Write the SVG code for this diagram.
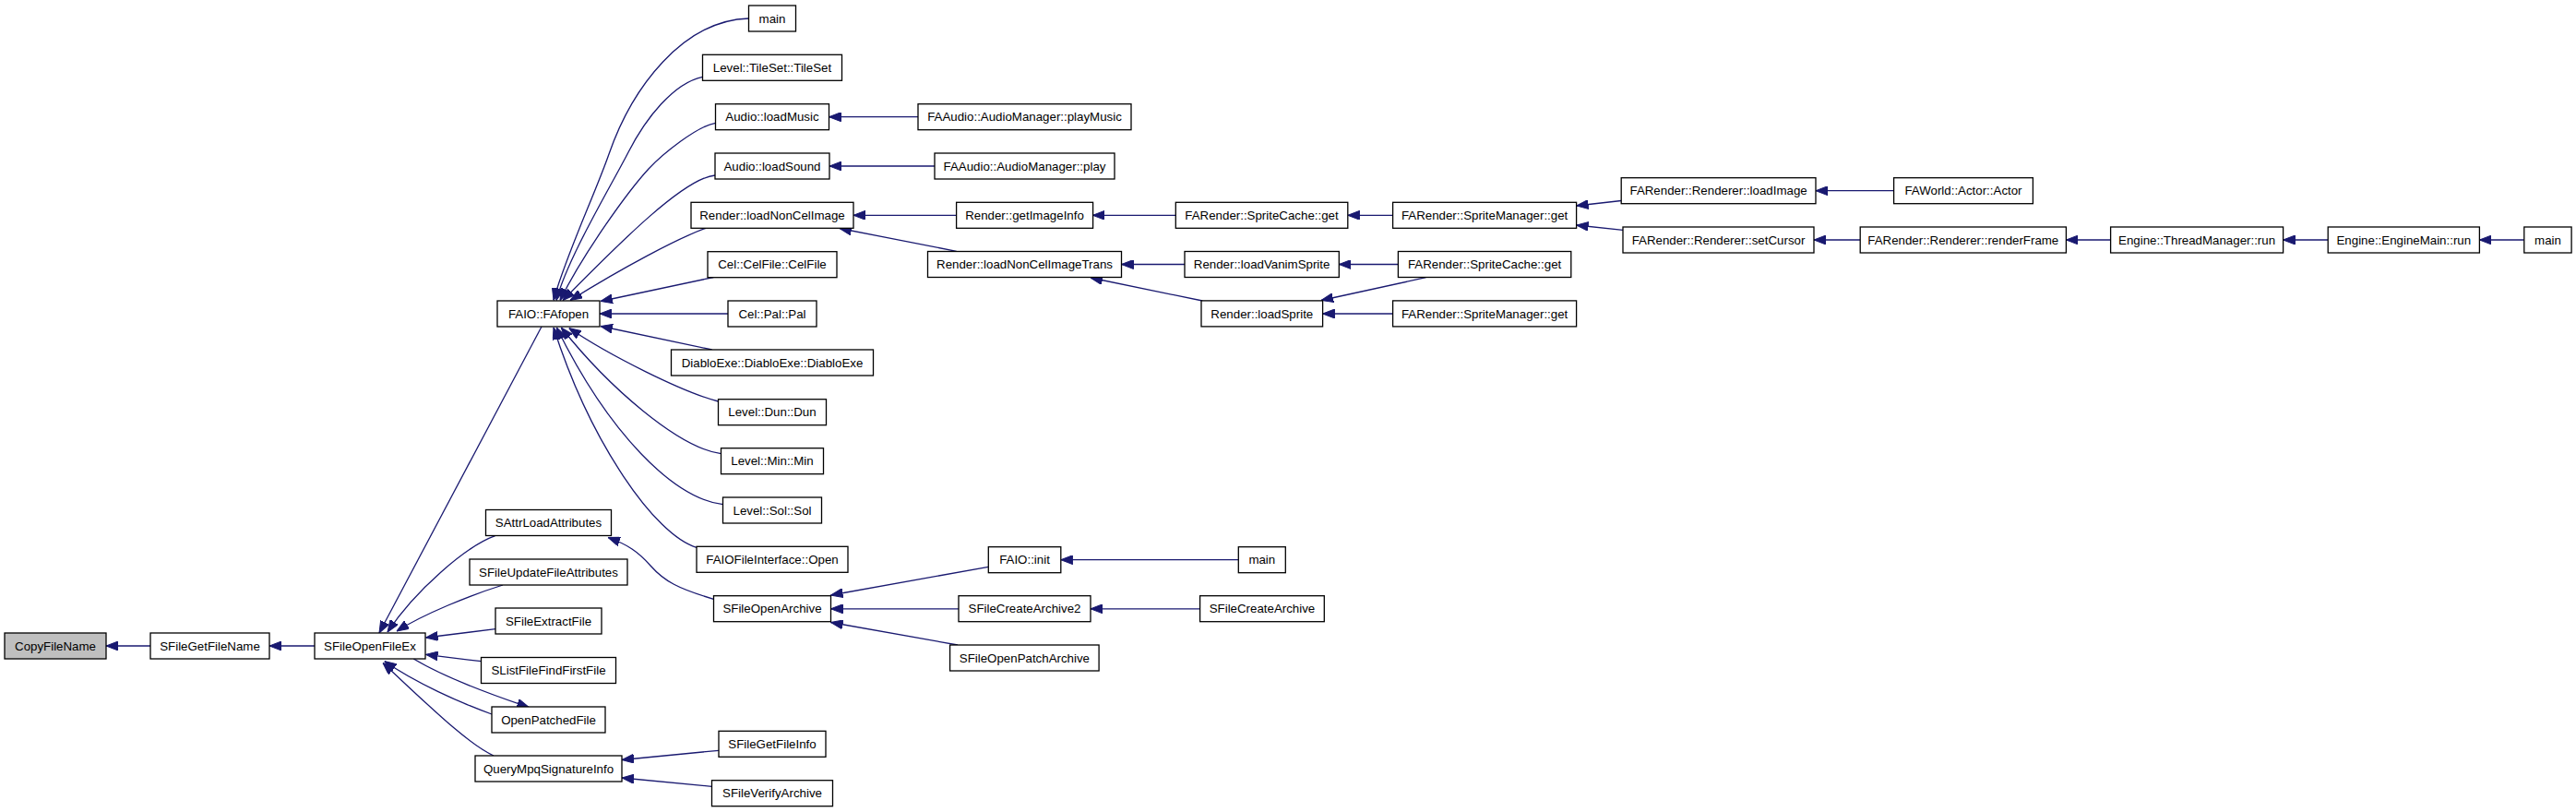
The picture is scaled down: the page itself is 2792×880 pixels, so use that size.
<svg xmlns="http://www.w3.org/2000/svg" width="2792" height="880" viewBox="0 0 2792 880">
<style>
.n rect{fill:#fff;stroke:#000;stroke-width:1.3}
.n text{font-family:"Liberation Sans",Arial,sans-serif;font-size:13.3px;fill:#000;text-anchor:middle}
.e path{fill:none;stroke:#191970;stroke-width:1.3;marker-end:url(#a)}
</style>
<defs>
<marker id="a" viewBox="0 0 13 10" markerWidth="13" markerHeight="10" refX="13" refY="5" orient="auto" markerUnits="userSpaceOnUse">
<path d="M0,0L13,5L0,10z" fill="#191970" stroke="#191970" stroke-width="1"/>
</marker>
</defs>
<rect width="2792" height="880" fill="#fff"/>
<g id="edges" class="e">
<path d="M163,700L115,700"/>
<path d="M341,700L292,700"/>
<path d="M587,354L411,686"/>
<path d="M536.7,580.7C505,592 450,640 420,685"/>
<path d="M545,634C510,645 460,665 430,684"/>
<path d="M537,681.7L461.5,691"/>
<path d="M521.5,716.7L461.5,709.3"/>
<path d="M448.3,714C480,733 530,752 573.3,766.5"/>
<path d="M533,774C500,762 450,740 416.7,716.5"/>
<path d="M535,819C505,805 460,760 415,718.5"/>
<path d="M811.5,20C740,22 685,95 660,167C645,210 612,280 600,325.5"/>
<path d="M761.5,83.3C730,90 700,128 681,165C662,202 615,280 603,325.5"/>
<path d="M775.5,133.3C755,137 718,167 703,183C680,208 632,275 607,325.5"/>
<path d="M775,190C740,193 665,270 610,325.5"/>
<path d="M765,247.3C735,258 675,290 618,325.5"/>
<path d="M773.3,300.5L651,326.5"/>
<path d="M789,340L650,340"/>
<path d="M771.7,379L651,353.5"/>
<path d="M778.5,435C740,425 660,385 616.7,355.5"/>
<path d="M781.5,491.7C735,485 660,420 608.3,355"/>
<path d="M783.5,546.7C730,540 660,470 603.3,355"/>
<path d="M755,593.3C710,580 640,480 600,355"/>
<path d="M773.5,649.3C735,638 720,630 705,613C692,598 680,590 659,582.5"/>
<path d="M1071.3,614.3L900.5,645"/>
<path d="M1039,659.8L900.5,659.8"/>
<path d="M1038,699L900.5,674.5"/>
<path d="M1342.3,606.7L1149.8,606.7"/>
<path d="M1300.6,659.8L1182,659.8"/>
<path d="M779,813.3L674,823.5"/>
<path d="M771.5,852.3L674,843"/>
<path d="M995,126.7L898.5,126.7"/>
<path d="M1013,180L899,180"/>
<path d="M1036.6,233.3L925,233.3"/>
<path d="M1036.7,272.3L910,247.5"/>
<path d="M1274.3,233.3L1184.4,233.3"/>
<path d="M1509.6,233.3L1460.8,233.3"/>
<path d="M1284,286.5L1215.5,286.5"/>
<path d="M1303.3,326L1182,301"/>
<path d="M1515.4,286.5L1451.3,286.5"/>
<path d="M1545.5,300.7L1432,325.5"/>
<path d="M1509.6,340L1433.6,340"/>
<path d="M1757.2,217.5L1708.6,223"/>
<path d="M1759,249.3L1708.6,244"/>
<path d="M2052.6,206.7L1968,206.7"/>
<path d="M2016.2,260L1966,260"/>
<path d="M2287.6,260L2239.4,260"/>
<path d="M2523.2,260L2474.6,260"/>
<path d="M2735.8,260L2687.4,260"/>
</g>
<g id="n1" class="n"><rect x="5" y="686" width="110" height="28" style="fill:#bfbfbf"/><text x="60" y="704.6">CopyFileName</text></g>
<g id="n2" class="n"><rect x="163" y="686" width="129" height="28"/><text x="227.5" y="704.6">SFileGetFileName</text></g>
<g id="n3" class="n"><rect x="341" y="686" width="120" height="28"/><text x="401" y="704.6">SFileOpenFileEx</text></g>
<g id="n4" class="n"><rect x="526.5" y="552.5" width="136" height="28"/><text x="594.5" y="571.1">SAttrLoadAttributes</text></g>
<g id="n5" class="n"><rect x="509" y="606" width="171" height="28"/><text x="594.5" y="624.6">SFileUpdateFileAttributes</text></g>
<g id="n6" class="n"><rect x="537" y="659" width="115" height="28"/><text x="594.5" y="677.6">SFileExtractFile</text></g>
<g id="n7" class="n"><rect x="521.5" y="712.5" width="146" height="28"/><text x="594.5" y="731.1">SListFileFindFirstFile</text></g>
<g id="n8" class="n"><rect x="533" y="766" width="123" height="28"/><text x="594.5" y="784.6">OpenPatchedFile</text></g>
<g id="n9" class="n"><rect x="515" y="819" width="159" height="28"/><text x="594.5" y="837.6">QueryMpqSignatureInfo</text></g>
<g id="n10" class="n"><rect x="539" y="326" width="111" height="28"/><text x="594.5" y="344.6">FAIO::FAfopen</text></g>
<g id="n11" class="n"><rect x="811.5" y="6" width="51" height="28"/><text x="837" y="24.6">main</text></g>
<g id="n12" class="n"><rect x="761.5" y="59.3" width="151" height="28"/><text x="837" y="77.9">Level::TileSet::TileSet</text></g>
<g id="n13" class="n"><rect x="775.5" y="112.7" width="123" height="28"/><text x="837" y="131.3">Audio::loadMusic</text></g>
<g id="n14" class="n"><rect x="775" y="166" width="124" height="28"/><text x="837" y="184.6">Audio::loadSound</text></g>
<g id="n15" class="n"><rect x="749" y="219.3" width="176" height="28"/><text x="837" y="237.9">Render::loadNonCelImage</text></g>
<g id="n16" class="n"><rect x="767" y="272.7" width="140" height="28"/><text x="837" y="291.3">Cel::CelFile::CelFile</text></g>
<g id="n17" class="n"><rect x="789" y="326" width="96" height="28"/><text x="837" y="344.6">Cel::Pal::Pal</text></g>
<g id="n18" class="n"><rect x="727.5" y="379" width="219" height="28"/><text x="837" y="397.6">DiabloExe::DiabloExe::DiabloExe</text></g>
<g id="n19" class="n"><rect x="778.5" y="432.7" width="117" height="28"/><text x="837" y="451.3">Level::Dun::Dun</text></g>
<g id="n20" class="n"><rect x="781.5" y="485.7" width="111" height="28"/><text x="837" y="504.3">Level::Min::Min</text></g>
<g id="n21" class="n"><rect x="783.5" y="539" width="107" height="28"/><text x="837" y="557.6">Level::Sol::Sol</text></g>
<g id="n22" class="n"><rect x="755" y="592.3" width="164" height="28"/><text x="837" y="610.9">FAIOFileInterface::Open</text></g>
<g id="n23" class="n"><rect x="773.5" y="645.7" width="127" height="28"/><text x="837" y="664.3">SFileOpenArchive</text></g>
<g id="n24" class="n"><rect x="779" y="792.3" width="116" height="28"/><text x="837" y="810.9">SFileGetFileInfo</text></g>
<g id="n25" class="n"><rect x="771.5" y="845.7" width="131" height="28"/><text x="837" y="864.3">SFileVerifyArchive</text></g>
<g id="n26" class="n"><rect x="995" y="112.7" width="231" height="28"/><text x="1110.5" y="131.3">FAAudio::AudioManager::playMusic</text></g>
<g id="n27" class="n"><rect x="1013" y="166" width="195" height="28"/><text x="1110.5" y="184.6">FAAudio::AudioManager::play</text></g>
<g id="n28" class="n"><rect x="1036.6" y="219.3" width="148" height="28"/><text x="1110.5" y="237.9">Render::getImageInfo</text></g>
<g id="n29" class="n"><rect x="1005.5" y="272.5" width="210" height="28"/><text x="1110.5" y="291.1">Render::loadNonCelImageTrans</text></g>
<g id="n30" class="n"><rect x="1071.3" y="592.7" width="78.5" height="28"/><text x="1110.5" y="611.3">FAIO::init</text></g>
<g id="n31" class="n"><rect x="1039" y="645.7" width="143" height="28"/><text x="1110.5" y="664.3">SFileCreateArchive2</text></g>
<g id="n32" class="n"><rect x="1029.6" y="699" width="161.5" height="28"/><text x="1110.4" y="717.6">SFileOpenPatchArchive</text></g>
<g id="n33" class="n"><rect x="1274.3" y="219.3" width="186.5" height="28"/><text x="1367.5" y="237.9">FARender::SpriteCache::get</text></g>
<g id="n34" class="n"><rect x="1284" y="272.5" width="167.3" height="28"/><text x="1367.6" y="291.1">Render::loadVanimSprite</text></g>
<g id="n35" class="n"><rect x="1302" y="325.9" width="131.6" height="28"/><text x="1367.8" y="344.5">Render::loadSprite</text></g>
<g id="n36" class="n"><rect x="1342.3" y="592.7" width="51" height="28"/><text x="1367.8" y="611.3">main</text></g>
<g id="n37" class="n"><rect x="1300.6" y="645.7" width="134.7" height="28"/><text x="1368" y="664.3">SFileCreateArchive</text></g>
<g id="n38" class="n"><rect x="1509.6" y="219.3" width="199" height="28"/><text x="1609.1" y="237.9">FARender::SpriteManager::get</text></g>
<g id="n39" class="n"><rect x="1515.4" y="272.5" width="187.4" height="28"/><text x="1609.1" y="291.1">FARender::SpriteCache::get</text></g>
<g id="n40" class="n"><rect x="1509.6" y="325.9" width="199" height="28"/><text x="1609.1" y="344.5">FARender::SpriteManager::get</text></g>
<g id="n41" class="n"><rect x="1757.2" y="192.7" width="210.8" height="28"/><text x="1862.6" y="211.3">FARender::Renderer::loadImage</text></g>
<g id="n42" class="n"><rect x="1759" y="246" width="207" height="28"/><text x="1862.5" y="264.6">FARender::Renderer::setCursor</text></g>
<g id="n43" class="n"><rect x="2052.6" y="192.7" width="150.8" height="28"/><text x="2128" y="211.3">FAWorld::Actor::Actor</text></g>
<g id="n44" class="n"><rect x="2016.2" y="246" width="223.2" height="28"/><text x="2127.8" y="264.6">FARender::Renderer::renderFrame</text></g>
<g id="n45" class="n"><rect x="2287.6" y="246" width="187" height="28"/><text x="2381.1" y="264.6">Engine::ThreadManager::run</text></g>
<g id="n46" class="n"><rect x="2523.2" y="246" width="164.2" height="28"/><text x="2605.3" y="264.6">Engine::EngineMain::run</text></g>
<g id="n47" class="n"><rect x="2735.8" y="246" width="51.3" height="28"/><text x="2761.5" y="264.6">main</text></g>
</svg>
